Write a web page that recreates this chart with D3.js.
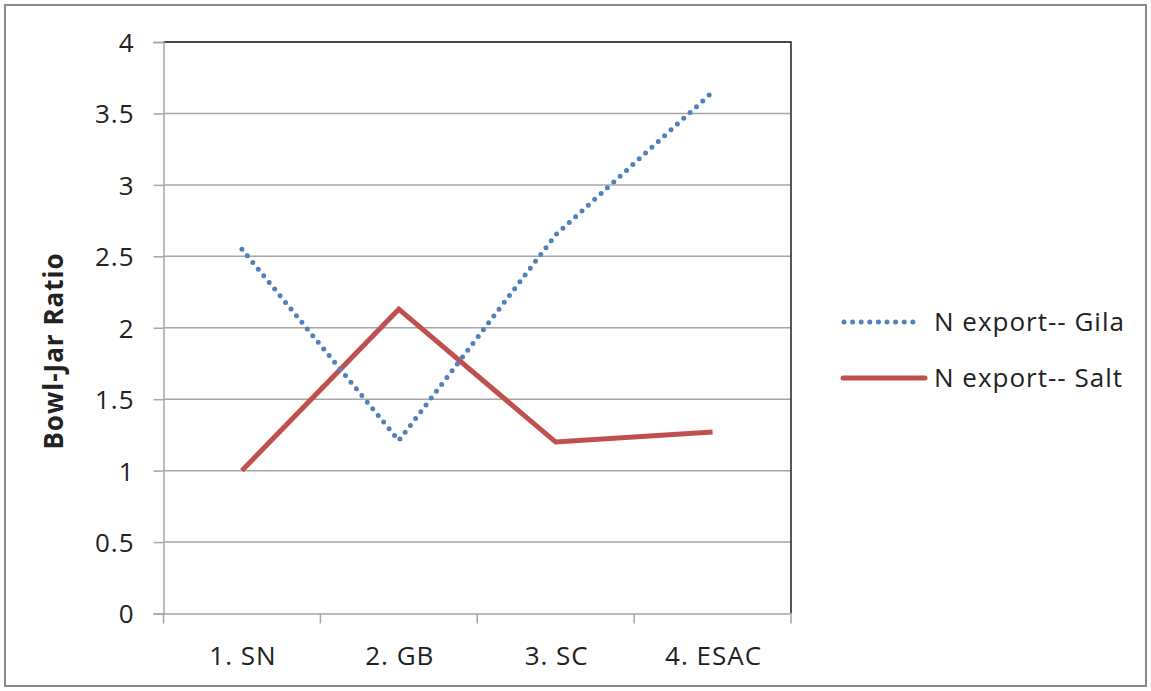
<!DOCTYPE html>
<html><head><meta charset="utf-8">
<script src="https://cdn.jsdelivr.net/npm/d3@7"></script>
<style>body{margin:0;background:#fff;} text{font-family:"Open Sans",sans-serif;fill:#222;letter-spacing:1px;}</style>
</head><body>
<svg id="c" width="1151" height="691"></svg>
<script>
const categories = ["1. SN", "2. GB", "3. SC", "4. ESAC"];
const gila = [2.55, 1.21, 2.65, 3.65];
const salt = [1.0, 2.13, 1.20, 1.27];
const yTicks = [0, 0.5, 1, 1.5, 2, 2.5, 3, 3.5, 4];
const seriesNames = ["N export-- Gila", "N export-- Salt"];

const FONT = "'Open Sans',sans-serif";
const FS = 26;
const svg = d3.select("#c");
svg.append("rect").attr("x",5).attr("y",5).attr("width",1141).attr("height",681)
  .attr("fill","#fff").attr("stroke","#8a8a8a").attr("stroke-width",2);

const L=163.5, R=791, T=42, B=613.5;
const x = d3.scaleBand().domain(categories).range([L,R]);
const y = d3.scaleLinear().domain([0,4]).range([B,T]);

svg.append("g").selectAll("line").data(yTicks.filter(d=>d>0)).join("line")
  .attr("x1",L).attr("x2",R).attr("y1",d=>y(d)).attr("y2",d=>y(d))
  .attr("stroke","#a6a6a6").attr("stroke-width",1.5);
svg.append("path").attr("d",`M${L},${T}H${R}V${B}`).attr("fill","none").attr("stroke","#222").attr("stroke-width",1.5);

const ya = svg.append("g").attr("transform",`translate(${L},0)`)
  .call(d3.axisLeft(y).tickValues(yTicks).tickSize(10).tickPadding(19).tickFormat(d=>d));
ya.select(".domain").attr("stroke","#a6a6a6").attr("stroke-width",1.5);
ya.selectAll(".tick line").attr("stroke","#a6a6a6").attr("stroke-width",1.5);
ya.selectAll("text").attr("font-size",FS).style("font-family",FONT).attr("fill","#222").attr("dy","0.36em").attr("x",-29);

const xa = svg.append("g").attr("transform",`translate(0,${B})`)
  .call(d3.axisBottom(x).tickSize(0).tickPadding(0));
xa.select(".domain").attr("stroke","#a6a6a6").attr("stroke-width",1.5);
xa.selectAll(".tick line").remove();
xa.selectAll("text").attr("font-size",FS).attr("dy",0).attr("y",51).attr("x",1).style("font-family",FONT).attr("fill","#222");
const edges = categories.map(c=>x(c)).concat([x(categories[categories.length-1])+x.bandwidth()]);
xa.append("g").selectAll("line").data(edges).join("line")
  .attr("x1",d=>d).attr("x2",d=>d).attr("y1",0).attr("y2",10)
  .attr("stroke","#a6a6a6").attr("stroke-width",1.5);

svg.append("text").attr("transform",`translate(63,351) rotate(-90)`)
  .attr("text-anchor","middle").attr("font-size",26).attr("font-weight","bold").text("Bowl-Jar Ratio");

const cx = c=>x(c)+x.bandwidth()/2;
const line = d3.line().x((d,i)=>cx(categories[i])).y(d=>y(d));

svg.append("path").datum(salt).attr("d",line).attr("fill","none")
  .attr("stroke","#c0504d").attr("stroke-width",5).attr("stroke-linejoin","miter");
svg.append("path").datum(gila).attr("d",line).attr("fill","none")
  .attr("stroke","#4f81bd").attr("stroke-width",5).attr("stroke-linecap","round").attr("stroke-dasharray","0,8.6");

const lg = svg.append("g");
lg.append("line").attr("x1",844).attr("x2",918).attr("y1",322).attr("y2",322)
  .attr("stroke","#4f81bd").attr("stroke-width",5).attr("stroke-linecap","round").attr("stroke-dasharray","0,8.6");
lg.append("line").attr("x1",843).attr("x2",925).attr("y1",378).attr("y2",378)
  .attr("stroke","#c0504d").attr("stroke-width",5).attr("stroke-linecap","round");
lg.append("text").attr("x",934).attr("y",331).attr("font-size",FS).text(seriesNames[0]);
lg.append("text").attr("x",934).attr("y",387).attr("font-size",FS).text(seriesNames[1]);
</script>
</body></html>
